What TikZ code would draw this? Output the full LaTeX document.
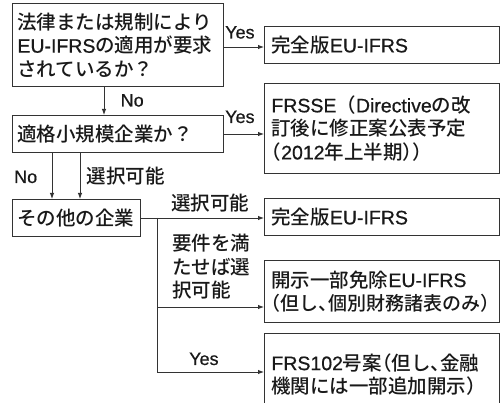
\documentclass[tikz,border=0pt]{standalone}
\usepackage{fontspec}
\setmainfont{Noto Sans CJK JP}[UprightFont=* Medium]
\newfontfamily\lat{Liberation Sans}[UprightFeatures={FakeBold=0.6}]
\newfontfamily\halfp{Noto Sans CJK JP Medium}[RawFeature=+halt]
\usetikzlibrary{arrows.meta}
\newcommand\jlp{{\halfp（}}
\newcommand\jrp{{\halfp）}}
\newcommand\jcm{{\halfp 、}}
\begin{document}
\begin{tikzpicture}[x=1pt,y=-1pt,
  every node/.style={text=black!90, font=\fontsize{19.5}{23.5}\selectfont},
  box/.style={draw=black!80, line width=0.9pt, anchor=north west, align=left, inner ysep=0pt},
  lbox/.style={box, inner xsep=5pt, minimum width=211pt, text width=201pt},
  rbox/.style={box, inner xsep=7pt, minimum width=235pt, text width=221pt},
  ln/.style={draw=black!80, line width=0.9pt},
  arr/.style={ln, -{Latex[length=6pt,width=4.5pt]}},
  lbl/.style={anchor=base west, inner sep=0pt},
  yn/.style={lbl, font=\lat\fontsize{18}{20}\selectfont}
]
\clip (0,0) rectangle (501,403);
\fill[white] (0,0) rectangle (501,403);

% boxes
\node[lbox, minimum height=83pt] (b1) at (12,3)
  {法律または規制により\\{\lat EU-IFRS}の適用が要求\\されているか？};
\node[rbox, minimum height=37pt] (b2) at (264,26) {完全版{\lat EU-IFRS}};
\node[lbox, minimum height=37pt] (b3) at (12,115) {適格小規模企業か？};
\node[rbox, minimum height=90pt] (b4) at (264,83)
  {{\lat FRSSE}（{\lat Directive}の改\\訂後に修正案公表予定\\\jlp{\lat 2012}年上半期\jrp\jrp};
\node[box, inner xsep=5pt, minimum width=128pt, text width=118pt, minimum height=37pt] (b5) at (12,199) {その他の企業};
\node[rbox, minimum height=37pt] (b6) at (264,198) {完全版{\lat EU-IFRS}};
\node[rbox, minimum height=62pt] (b7) at (264,260)
  {開示一部免除{\lat EU-IFRS}\\{\fontsize{19}{23.5}\selectfont\jlp 但し\jcm 個別財務諸表のみ\jrp}};
\node[rbox, minimum height=82pt] (b8) at (264,333)
  {{\lat FRS102}号案\jlp 但し\jcm 金融\\機関には一部追加開示\jrp};

% labels
\node[yn] (l1) at (225,38.5) {Yes};
\node[yn] (l2) at (120.5,106.5) {No};
\node[yn] (l3) at (225,123) {Yes};
\node[yn] (l4) at (14,183) {No};
\node[lbl] (l5) at (86.5,183.3) {選択可能};
\node[lbl] (l6) at (171,210.3) {選択可能};
\node[anchor=west, align=left, inner sep=0pt] (l7) at (172,267) {要件を満\\たせば選\\択可能};
\node[yn] (l8) at (189,365) {Yes};

% connectors
\draw[arr] (b1.east |- 0,47) -- (b2.west |- 0,47);
\draw[arr] (b1.south -| 104,0) -- (b3.north -| 104,0);
\draw[arr] (b3.east |- 0,134) -- (b4.west |- 0,134);
\draw[arr] (b3.south -| 52,0) -- (b5.north -| 52,0);
\draw[arr] (b3.south -| 80,0) -- (b5.north -| 80,0);
\draw[arr] (b5.east |- 0,218) -- (b6.west |- 0,218);
\coordinate (br) at (157,218);
\draw[arr] (br |- 0,307) -- (b7.west |- 0,307);
\draw[arr] (br) |- (b8.west |- 0,372);
\end{tikzpicture}
\end{document}
